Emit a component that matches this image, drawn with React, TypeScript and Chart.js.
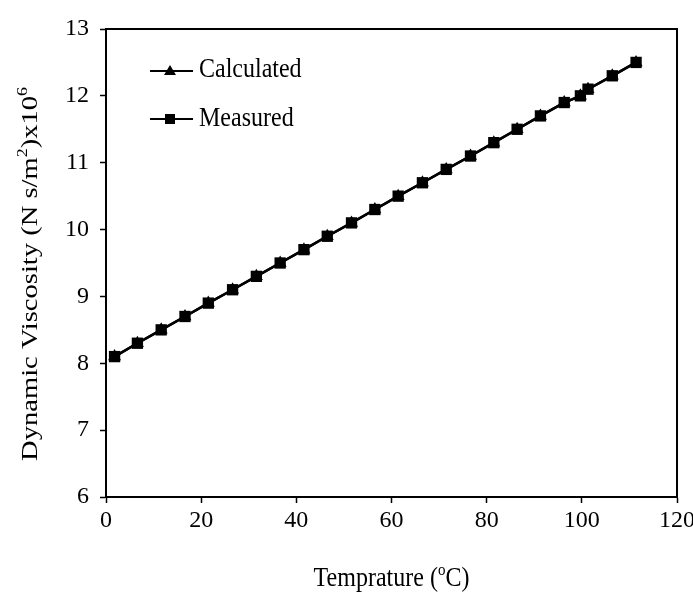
import React, { useEffect, useRef } from "react";
import { Chart, registerables } from "chart.js";

Chart.register(...registerables);

const temperatures = [1.8, 6.6, 11.6, 16.6, 21.5, 26.6, 31.6, 36.6, 41.6, 46.5, 51.6, 56.5, 61.4, 66.5, 71.5, 76.6, 81.5, 86.4, 91.3, 96.3, 99.7, 101.3, 106.4, 111.4];
const calculated = [8.1, 8.3, 8.5, 8.7, 8.9, 9.1, 9.3, 9.5, 9.7, 9.9, 10.1, 10.3, 10.5, 10.7, 10.9, 11.1, 11.3, 11.5, 11.7, 11.9, 12.0, 12.1, 12.3, 12.5];
const measured = [8.1, 8.3, 8.5, 8.7, 8.9, 9.1, 9.3, 9.5, 9.7, 9.9, 10.1, 10.3, 10.5, 10.7, 10.9, 11.1, 11.3, 11.5, 11.7, 11.9, 12.0, 12.1, 12.3, 12.5];
const seriesNames = ["Calculated", "Measured"];
const xTitleParts = [{ t: "Temprature (" }, { t: "o", sup: true }, { t: "C)" }];
const yTitleParts = [{ t: "Dynamic Viscosity (N s/m" }, { t: "2", sup: true }, { t: ")x10" }, { t: "6", sup: true }];

const FONT = "'Liberation Serif', 'Times New Roman', serif";

type Part = { t: string; sup?: boolean };

function drawRich(ctx: CanvasRenderingContext2D, parts: Part[], size: number, align: "center" | "left") {
  const sup = Math.round(size * 0.62);
  let total = 0;
  const widths = parts.map((p) => {
    ctx.font = `${p.sup ? sup : size}px ${FONT}`;
    const w = ctx.measureText(p.t).width;
    total += w;
    return w;
  });
  let x = align === "center" ? -total / 2 : 0;
  ctx.textBaseline = "alphabetic";
  ctx.textAlign = "left";
  parts.forEach((p, i) => {
    ctx.font = `${p.sup ? sup : size}px ${FONT}`;
    ctx.fillText(p.t, x, p.sup ? -size * 0.42 : 0);
    x += widths[i];
  });
}

const decor = {
  id: "decor",
  afterDraw(chart: any) {
    const ctx: CanvasRenderingContext2D = chart.ctx;
    const a = chart.chartArea;
    ctx.save();
    ctx.strokeStyle = "#000";
    ctx.lineWidth = 2;
    ctx.strokeRect(a.left, a.top, a.right - a.left, a.bottom - a.top);
    ctx.fillStyle = "#000";

    // legend
    const rows = [
      { name: seriesNames[0], y: 71, base: 77, shape: "tri" },
      { name: seriesNames[1], y: 119, base: 126, shape: "sq" },
    ];
    rows.forEach((r) => {
      ctx.beginPath();
      ctx.moveTo(150, r.y);
      ctx.lineTo(193, r.y);
      ctx.lineWidth = 2;
      ctx.stroke();
      ctx.beginPath();
      if (r.shape === "tri") {
        ctx.moveTo(170, r.y - 6);
        ctx.lineTo(176, r.y + 4);
        ctx.lineTo(164, r.y + 4);
        ctx.closePath();
      } else {
        ctx.rect(165, r.y - 5, 10, 10);
      }
      ctx.fill();
      ctx.save();
      ctx.translate(199, r.base);
      ctx.scale(1, 1.14);
      drawRich(ctx, [{ t: r.name }], 24, "left");
      ctx.restore();
    });

    // x title
    ctx.save();
    ctx.translate((a.left + a.right) / 2, 586);
    ctx.scale(1, 1.14);
    drawRich(ctx, xTitleParts, 24, "center");
    ctx.restore();

    // y title
    ctx.save();
    ctx.translate(37, 274);
    ctx.rotate(-Math.PI / 2);
    ctx.scale(1.19, 1);
    drawRich(ctx, yTitleParts, 24, "center");
    ctx.restore();

    ctx.restore();
  },
};

export default function App() {
  const ref = useRef<HTMLCanvasElement>(null);
  useEffect(() => {
    if (!ref.current) return;
    const chart = new Chart(ref.current, {
      type: "line",
      data: {
        datasets: [
          {
            label: seriesNames[0],
            data: temperatures.map((x, i) => ({ x, y: calculated[i] })),
            borderColor: "#000",
            backgroundColor: "#000",
            borderWidth: 2.5,
            pointStyle: "triangle",
            pointRadius: 7.5,
            pointBorderWidth: 0,
            order: 1,
          },
          {
            label: seriesNames[1],
            data: temperatures.map((x, i) => ({ x, y: measured[i] })),
            borderColor: "#000",
            backgroundColor: "#000",
            borderWidth: 2.5,
            pointStyle: "rect",
            pointRadius: 8,
            pointBorderWidth: 0,
            order: 0,
          },
        ],
      },
      options: {
        animation: false,
        responsive: false,
        maintainAspectRatio: false,
        layout: { padding: { top: 29, left: 0, right: 0, bottom: 0 } },
        plugins: { legend: { display: false }, tooltip: { enabled: false } },
        scales: {
          x: {
            type: "linear",
            min: 0,
            max: 120,
            ticks: { stepSize: 20, color: "#000", padding: 3, font: { family: FONT, size: 24 }, maxRotation: 0 },
            grid: { drawOnChartArea: false, tickLength: 6, tickColor: "#000", tickWidth: 1.5 },
            border: { color: "#000", width: 2 },
            afterFit: (s: any) => {
              s.height = 99;
              s.paddingRight = 16;
            },
          },
          y: {
            type: "linear",
            min: 6,
            max: 13,
            ticks: { stepSize: 1, color: "#000", padding: 11, font: { family: FONT, size: 24 } },
            grid: { drawOnChartArea: false, tickLength: 6, tickColor: "#000", tickWidth: 1.5 },
            border: { color: "#000", width: 2 },
            afterFit: (s: any) => {
              s.width = 106;
            },
          },
        },
      },
      plugins: [decor],
    } as any);
    return () => chart.destroy();
  }, []);
  return (
    <div style={{ position: "fixed", left: 0, top: 0, width: 693, height: 596, background: "#fff" }}>
      <canvas ref={ref} width={693} height={596} style={{ display: "block" }} />
    </div>
  );
}
